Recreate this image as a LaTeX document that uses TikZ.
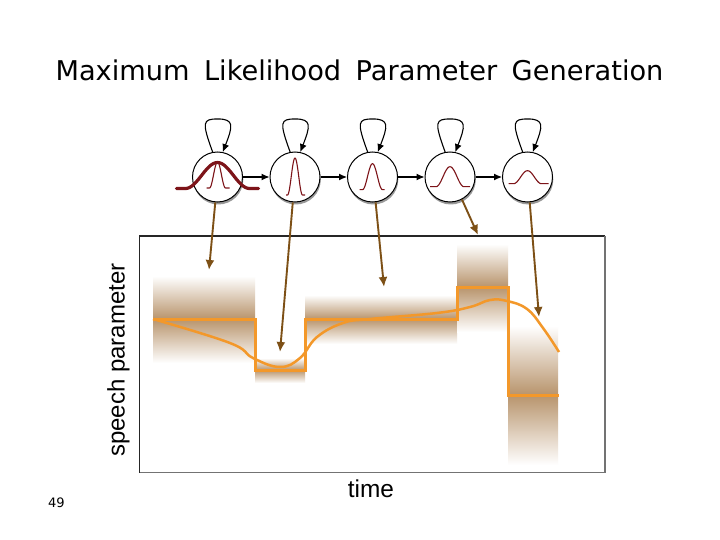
\documentclass[tikz,border=0pt]{standalone}
\usepackage{fontspec}
\setmainfont{DejaVu Sans}
\newfontfamily\helv{Liberation Sans}
\usetikzlibrary{arrows.meta,positioning,shadows}

\definecolor{bandbrown}{RGB}{184,148,108}
\definecolor{stepline}{RGB}{243,152,42}
\definecolor{gaussred}{RGB}{125,20,25}
\definecolor{linkbrown}{RGB}{125,80,22}

\tikzset{
  state/.style={circle,draw=black,fill=white,line width=1pt,minimum size=50pt,inner sep=0pt,
    drop shadow={shadow xshift=0.8pt,shadow yshift=-2.5pt,opacity=0.4,fill=black}},
  hmmedge/.style={-{Latex[length=8pt,width=7pt]},line width=1.1pt,black},
  linkedge/.style={-{Latex[length=10pt,width=9pt]},line width=1.9pt,linkbrown},
  bandup/.style={top color=white,bottom color=bandbrown,draw=none},
  banddown/.style={top color=bandbrown,bottom color=white,draw=none},
  gaussthin/.style={gaussred,line width=1.1pt,line join=round},
  gaussthick/.style={gaussred,line width=3.2pt,line join=round,line cap=round},
  meanline/.style={stepline,line width=3pt,line join=miter},
  trajline/.style={stepline,line width=2.5pt},
}

% node, from, to, base, height, half width
\newcommand{\gaussbump}[7][gaussthin]{
  \draw[#1,shift={(#2)}] (#3,#5) -- (-#7,#5) -- plot[smooth,samples=31,domain=-#7:#7]
    ({\x},{#5-#6*(0.5+0.5*cos(180*\x/#7))}) -- (#4,#5);
}
\newcommand{\meanband}[5]{
  \fill[bandup] (#1,#3) rectangle (#2,#4);
  \fill[banddown] (#1,#4) rectangle (#2,#5);
}
\newcommand{\selfloop}[1]{
  \draw[hmmedge] (#1.101) .. controls +(-11,-30) and +(-15,0) .. ++(5,-33)
    .. controls +(17,0) and +(10,-26) .. (#1.78);
}

\begin{document}
\begin{tikzpicture}[x=1pt,y=-1pt,node distance=77.5pt,on grid]
  \useasboundingbox (0,0) rectangle (720,540);
  \fill[white] (0,0) rectangle (720,540);

  \node (title) at (359.5,70) {\fontsize{27.2}{30}\selectfont\spaceskip=14.5pt Maximum Likelihood Parameter Generation};
  \node (pagenum) at (56.5,503) {\fontsize{13}{15}\selectfont 49};
  \node (xlabel) at (371,489) {\helv\fontsize{24.4}{28}\selectfont time};
  \node[rotate=90] (ylabel) at (118.5,360) {\helv\fontsize{24}{28}\selectfont speech parameter};

  % gaussian bands
  \meanband{153.5}{255}{276}{319}{363}
  \meanband{255}{305}{358}{370}{383}
  \meanband{305}{457}{295}{319}{344}
  \meanband{457}{508}{244}{287}{332}
  \meanband{508}{558}{326}{395}{465}

  \draw[line width=1.4pt,black!85] (139.5,472.5) -- (139.5,236) -- (605,236);
  \draw[line width=1.6pt,black!55] (605,236) -- (605,472.5) -- (139.5,472.5);

  \draw[meanline] (153,319) -- (255,319) -- (255,370) -- (305,370) -- (305,319)
    -- (457,319) -- (457,287) -- (508,287) -- (508,395) -- (559,395);
  \draw[trajline] plot[smooth,tension=0.7] coordinates {(153,319) (230,343) (253,358)
    (280,367) (300,358) (317,337) (343,323) (370,319) (437,313) (470,307)
    (490,300) (507,301) (527,309) (543,328) (559,352)};

  \node[state] (s1) at (217.5,177) {};
  \node[state] (s2) [right=of s1] {};
  \node[state] (s3) [right=of s2] {};
  \node[state] (s4) [right=of s3] {};
  \node[state] (s5) [right=of s4] {};

  \coordinate (t1) at (209,270);
  \coordinate (t2) at (280,352);
  \coordinate (t3) at (384,287);
  \coordinate (t4) at (478,235);
  \coordinate (t5) at (539,317);

  \path[hmmedge]
    (s1) edge (s2)
    (s2) edge (s3)
    (s3) edge (s4)
    (s4) edge (s5);
  \selfloop{s1}
  \selfloop{s2}
  \selfloop{s3}
  \selfloop{s4}
  \selfloop{s5}

  \path[linkedge]
    (s1.265) edge (t1)
    (s2.265) edge (t2)
    (s3.277) edge (t3)
    (s4.-62) edge (t4)
    (s5.-85) edge (t5);

  \gaussbump{s1}{-11}{12}{11}{26}{8}
  \gaussbump[gaussthick]{s1}{-41}{41}{11.5}{26}{32}
  \gaussbump{s2}{-9}{10}{18}{37}{7.5}
  \gaussbump{s3}{-13}{12}{12.7}{26}{10}
  \gaussbump{s4}{-20}{20}{9.7}{20}{14}
  \gaussbump{s5}{-19}{21}{6.7}{13}{14}
\end{tikzpicture}
\end{document}
